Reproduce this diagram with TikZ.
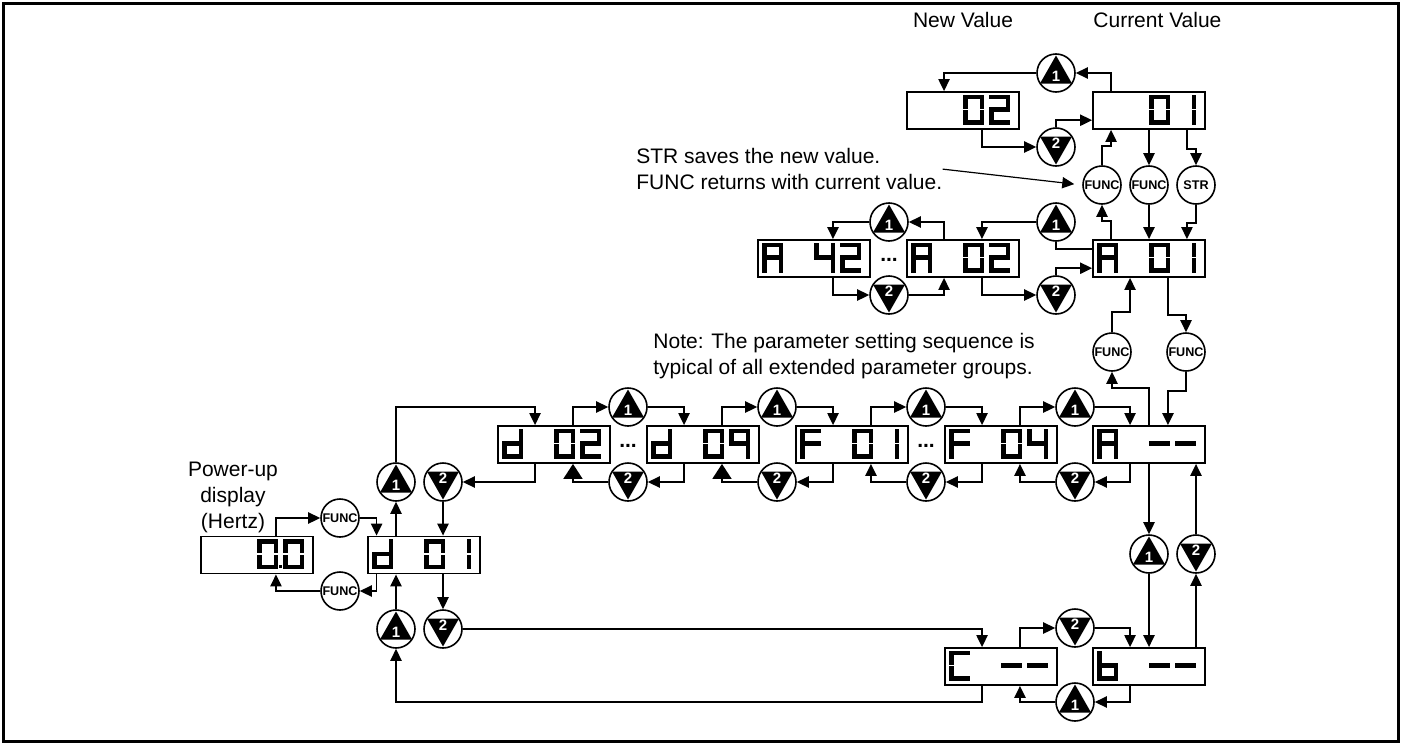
\documentclass[tikz,border=0pt]{standalone}
\usepackage{fontspec}
\setmainfont{Liberation Sans}
\usetikzlibrary{arrows.meta,calc}

\tikzset{>={Triangle[length=6pt,width=5.6pt]}}
\tikzset{
  lcd/.style={draw,line width=.9pt,minimum width=56pt,minimum height=18.5pt,inner sep=0pt},
  key/.style={draw,circle,line width=.8pt,minimum size=19pt,inner sep=0pt,
    font=\fontsize{6.3}{6.3}\selectfont\bfseries},
  keynum/.style={text=white,inner sep=0pt,font=\fontsize{7.5}{7.5}\selectfont\bfseries},
  wire/.style={line width=.9pt,->},
  bigtip/.style={-{Triangle[length=7.5pt,width=9.5pt]}},
  txt/.style={inner sep=0pt,font=\fontsize{10.5}{13}\selectfont},
  dots/.style={inner sep=0pt,anchor=base,font=\fontsize{10.5}{13}\selectfont\bfseries},
  upkey/.pic={
    \fill (0,-17.5) -- (16,10.5) -- (-16,10.5) -- cycle;
    \node[keynum] at (0,3.5) {1};
  },
  downkey/.pic={
    \fill (0,17.5) -- (16,-10.5) -- (-16,-10.5) -- cycle;
    \node[keynum] at (0,-3.5) {2};
  },
  % seven segment digit, 21 x 30, y runs down
  seg a/.pic={\fill (0,0) rectangle (21,4.5);},
  seg b/.pic={\fill (16.5,0) rectangle (21,14.2);},
  seg c/.pic={\fill (16.5,15.8) rectangle (21,30);},
  seg d/.pic={\fill (0,25.5) rectangle (21,30);},
  seg e/.pic={\fill (0,15.8) rectangle (4.5,30);},
  seg f/.pic={\fill (0,0) rectangle (4.5,14.2);},
  seg g/.pic={\fill (0,12.75) rectangle (21,17.25);},
  seg x/.pic={},
  segs/0/.initial={a,b,c,d,e,f},
  segs/1/.initial={b,c},
  segs/2/.initial={a,b,d,e,g},
  segs/4/.initial={b,c,f,g},
  segs/9/.initial={a,b,c,f,g},
  segs/A/.initial={a,b,c,e,f,g},
  segs/b/.initial={c,d,e,f,g},
  segs/C/.initial={a,d,e,f},
  segs/d/.initial={b,c,d,e,g},
  segs/F/.initial={a,e,f,g},
  segs/m/.initial={g},
  segs/x/.initial={x},
  ch/.pic={
    \pgfkeysgetvalue{/tikz/segs/#1}\seglist
    \foreach \s in \seglist {\pic {seg \s};}
  },
}

% display box with four digits and named ports
\newcommand\lcdbox[3]{%
  \node[lcd] (#1) at (#2) {};
  \foreach \chr [count=\i] in {#3}
    \pic at ($(#1.north west)+(26*\i-21,3.5)$) {ch=\chr};
  \foreach \k in {1,...,11} {
    \coordinate (#1-n\k) at ($(#1.north west)!\k/12!(#1.north east)$);
    \coordinate (#1-s\k) at ($(#1.south west)!\k/12!(#1.south east)$);
  }
  \coordinate (#1-w1) at ($(#1.north west)!.25!(#1.south west)$);
  \coordinate (#1-w3) at ($(#1.north west)!.75!(#1.south west)$);
}

\begin{document}
\begin{tikzpicture}[x=0.5pt,y=-0.5pt]
  \useasboundingbox (0,0) rectangle (1401,744);
  \draw[line width=1.5pt] (3,3) rectangle (1398,741);

  % displays
  \lcdbox{nv}{963,110.5}{x,x,0,2}
  \lcdbox{cv}{1149,110.5}{x,x,0,1}
  \lcdbox{a42}{814,258.5}{A,x,4,2}
  \lcdbox{a02}{963,258.5}{A,x,0,2}
  \lcdbox{a01}{1149,258.5}{A,x,0,1}
  \lcdbox{d02}{554,444.5}{d,x,0,2}
  \lcdbox{d09}{703,444.5}{d,x,0,9}
  \lcdbox{f01}{852,444.5}{F,x,0,1}
  \lcdbox{f04}{1001,444.5}{F,x,0,4}
  \lcdbox{ann}{1149,444.5}{A,x,m,m}
  \lcdbox{pwr}{257,555}{x,x,0,0}
  \lcdbox{d01}{424,555}{d,x,0,1}
  \lcdbox{cnn}{1001,666.5}{C,x,m,m}
  \lcdbox{bnn}{1149,666.5}{b,x,m,m}
  \fill[draw=white,line width=.3pt] ($(pwr.north west)+(78,28.5)$) rectangle ++(4.5,4.5);

  \node[dots] (el1) at (889,261) {...};
  \node[dots] (el2) at (628,447) {...};
  \node[dots] (el3) at (926,447) {...};

  % keys
  \node[key] (ut) at (1056,73) {};   \pic at (ut) {upkey};
  \node[key] (dt) at (1056,147) {};  \pic at (dt) {downkey};
  \node[key] (fa) at (1102,185) {FUNC};
  \node[key] (fb) at (1149,185) {FUNC};
  \node[key] (sr) at (1196,185) {STR};
  \node[key] (ua1) at (889,222) {};  \pic at (ua1) {upkey};
  \node[key] (da1) at (889,295) {};  \pic at (da1) {downkey};
  \node[key] (ua2) at (1056,222) {}; \pic at (ua2) {upkey};
  \node[key] (da2) at (1056,295) {}; \pic at (da2) {downkey};
  \node[key] (fc) at (1112,352) {FUNC};
  \node[key] (fd) at (1186,352) {FUNC};
  \node[key] (fp1) at (340,518) {FUNC};
  \node[key] (fp2) at (340,591) {FUNC};
  \node[key] (ud0) at (396,482) {};  \pic at (ud0) {upkey};
  \node[key] (dd0) at (443,482) {};  \pic at (dd0) {downkey};
  \node[key] (u1) at (628,407) {};   \pic at (u1) {upkey};
  \node[key] (d1) at (628,482) {};   \pic at (d1) {downkey};
  \node[key] (u2) at (777,407) {};   \pic at (u2) {upkey};
  \node[key] (d2) at (777,482) {};   \pic at (d2) {downkey};
  \node[key] (u3) at (926,407) {};   \pic at (u3) {upkey};
  \node[key] (d3) at (926,482) {};   \pic at (d3) {downkey};
  \node[key] (u4) at (1075,407) {};  \pic at (u4) {upkey};
  \node[key] (d4) at (1075,482) {};  \pic at (d4) {downkey};
  \node[key] (ur) at (1149,554) {};  \pic at (ur) {upkey};
  \node[key] (dr) at (1196,554) {};  \pic at (dr) {downkey};
  \node[key] (db) at (1075,628) {};  \pic at (db) {downkey};
  \node[key] (ub) at (1075,702) {};  \pic at (ub) {upkey};
  \node[key] (ud1) at (396,629) {};  \pic at (ud1) {upkey};
  \node[key] (dd1) at (443,629) {};  \pic at (dd1) {downkey};

  % texts
  \node[txt,anchor=base] (nvl) at (963,27) {New Value};
  \node[txt,anchor=base west] (cvl) at (1093,27) {Current Value};
  \node[txt,align=left,anchor=north west] (strl) at (636,148)
    {STR saves the new value.\\FUNC returns with current value.};
  \node[txt,align=left,anchor=north west] (note) at (653,333)
    {Note: The parameter setting sequence is\\typical of all extended parameter groups.};
  \node[txt,align=center,anchor=north] (pwrl) at (233,462) {Power-up\\display\\(Hertz)};
  \draw[line width=.6pt,->,shorten >=4pt] (strl.east) -- (fa.west);

  % value edit
  \draw[wire] (cv-n2) |- (ut.east);
  \draw[wire] (ut.west) -| (nv-n4);
  \draw[wire] (nv-s8) |- (dt.west);
  \draw[wire] (dt.north) |- (cv-w3);
  \draw[wire] (fa.north) -- ++(0,-19) -| (cv-s2);
  \draw[wire] (cv.south -| fb) -- (fb.north);
  \draw[wire] (cv-s10) -- ++(0,19) -| (sr.north);
  \draw[wire] (a01-n2) -- ++(0,-18.5) -| (fa.south);
  \draw[wire] (fb.south) -- (a01.north -| fb);
  \draw[wire] (sr.south) -- ++(0,18.5) -| (a01-n10);

  % A group
  \draw[wire,-] (a01-w1) -| (ua2.south);
  \draw[wire] (ua2.west) -| (a02-n8);
  \draw[wire] (a02-s8) |- (da2.west);
  \draw[wire] (da2.north) |- (a01-w3);
  \draw[wire] (a02-n4) |- (ua1.east);
  \draw[wire] (ua1.west) -| (a42-n8);
  \draw[wire] (a42-s8) |- (da1.west);
  \draw[wire] (da1.east) -| (a02-s4);
  \draw[wire] (fc.north) -- ++(0,-20) -| (a01-s4);
  \draw[wire] (a01-s8) -- ++(0,37) -| (fd.north);
  \draw[wire] (ann-n6) -- ++(0,-37) -| (fc.south);
  \draw[wire] (fd.south) -- ++(0,19) -| (ann-n8);

  % power-up
  \draw[wire] (pwr-n8) |- (fp1.west);
  \draw[wire] (fp1.east) -| (d01-n1);
  \draw[wire] (d01-s1) |- (fp2.east);
  \draw[wire] (fp2.west) -| (pwr-s8);

  % d and F groups
  \draw[wire] (d01.north -| ud0) -- (ud0.south);
  \draw[wire] (dd0.south) -- (d01.north -| dd0);
  \draw[wire] (ud0.north) -- (ud0 |- u1) -| (d02-n4);
  \draw[wire] (d02-s4) |- (dd0.east);
  \draw[wire] (d02-n8) |- (u1.west);
  \draw[wire] (u1.east) -| (d09-n4);
  \draw[wire] (d09-s4) |- (d1.east);
  \draw[wire,bigtip] (d1.west) -| (d02-s8);
  \draw[wire] (d09-n8) |- (u2.west);
  \draw[wire] (u2.east) -| (f01-n4);
  \draw[wire] (f01-s4) |- (d2.east);
  \draw[wire,bigtip] (d2.west) -| (d09-s8);
  \draw[wire] (f01-n8) |- (u3.west);
  \draw[wire] (u3.east) -| (f04-n4);
  \draw[wire] (f04-s4) |- (d3.east);
  \draw[wire] (d3.west) -| (f01-s8);
  \draw[wire] (f04-n8) |- (u4.west);
  \draw[wire] (u4.east) -| (ann-n4);
  \draw[wire] (ann-s4) |- (d4.east);
  \draw[wire] (d4.west) -| (f04-s8);

  % b and C groups
  \draw[wire] (ann.south -| ur) -- (ur.north);
  \draw[wire] (ur.south) -- (bnn.north -| ur);
  \draw[wire] (bnn.north -| dr) -- (dr.south);
  \draw[wire] (dr.north) -- (ann.south -| dr);
  \draw[wire] (cnn-n8) |- (db.west);
  \draw[wire] (db.east) -| (bnn-n4);
  \draw[wire] (bnn-s4) |- (ub.east);
  \draw[wire] (ub.west) -| (cnn-s8);
  \draw[wire] (d01.south -| dd1) -- (dd1.north);
  \draw[wire] (dd1.east) -| (cnn-n4);
  \draw[wire] (cnn-s4) -- (cnn-s4 |- ub) -| (ud1.south);
  \draw[wire] (ud1.north) -- (d01.south -| ud1);
\end{tikzpicture}
\end{document}
